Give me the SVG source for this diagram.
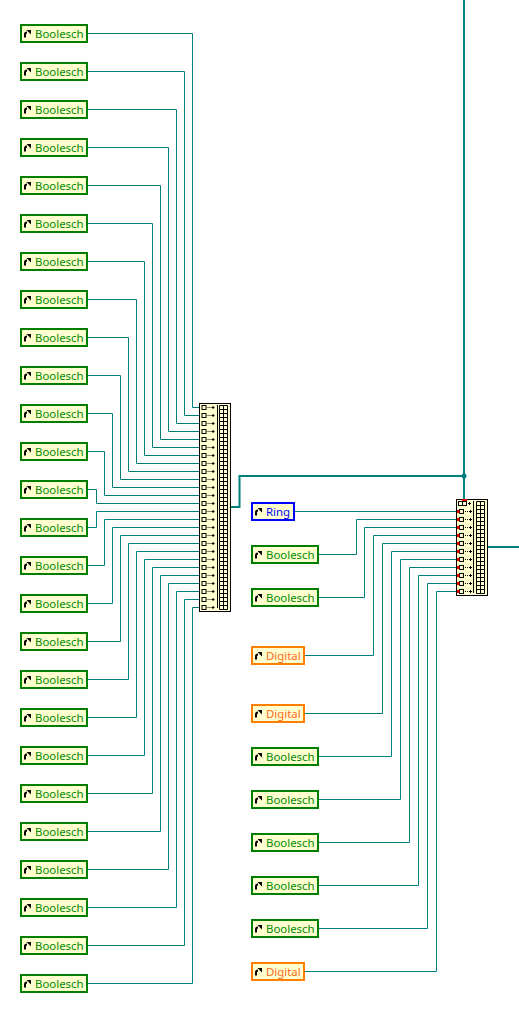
<svg xmlns="http://www.w3.org/2000/svg" width="519" height="1015" viewBox="0 0 519 1015">
<style>
.w{fill:none;stroke:#007f7f;stroke-width:1}
.t{fill:none;stroke:#007f7f;stroke-width:2}
.b{fill:#ffffd0;stroke-width:2}
.bool{stroke:#007f00}.ring{stroke:#0000ff}.dig{stroke:#ff8000}
text{font-family:"Noto Sans","Liberation Sans",sans-serif;font-size:11.400px}
.tb{fill:#008a00}.tr{fill:#0000ff}.td{fill:#ff6a20}
.n{fill:#ffffd0;stroke:#000;stroke-width:1}
.l{fill:none;stroke:#000;stroke-width:1}
</style>
<defs>
<g id="a"><path d="M1 8.500V5.500Q1 3.500 3 3.500" fill="none" stroke="#000" stroke-width="2"/><path d="M2.500 1H7V5.500Z" fill="#000"/></g>
<g id="r"><rect x="0.500" y="-2.500" width="4" height="4" fill="none" stroke="#000"/><path d="M6 -0.500h1M8 -0.500h1M10 -0.500h3M11.500 -2v3" stroke="#000" fill="none"/></g>
</defs>
<g id="connectors">
<path class="w" d="M87 33.500H192.500V407.500H199"/><path class="w" d="M87 71.500H184.500V415.500H199"/><path class="w" d="M87 109.500H176.500V423.500H199"/><path class="w" d="M87 147.500H168.500V431.500H199"/><path class="w" d="M87 185.500H160.500V439.500H199"/><path class="w" d="M87 223.500H152.500V447.500H199"/><path class="w" d="M87 261.500H144.500V455.500H199"/><path class="w" d="M87 299.500H136.500V463.500H199"/><path class="w" d="M87 337.500H128.500V471.500H199"/><path class="w" d="M87 375.500H120.500V479.500H199"/><path class="w" d="M87 413.500H112.500V487.500H199"/><path class="w" d="M87 451.500H104.500V495.500H199"/><path class="w" d="M87 489.500H96.500V503.500H199"/><path class="w" d="M87 527.500H96.500V511.500H199"/><path class="w" d="M87 565.500H104.500V519.500H199"/><path class="w" d="M87 603.500H112.500V527.500H199"/><path class="w" d="M87 641.500H120.500V535.500H199"/><path class="w" d="M87 679.500H128.500V543.500H199"/><path class="w" d="M87 717.500H136.500V551.500H199"/><path class="w" d="M87 755.500H144.500V559.500H199"/><path class="w" d="M87 793.500H152.500V567.500H199"/><path class="w" d="M87 831.500H160.500V575.500H199"/><path class="w" d="M87 869.500H168.500V583.500H199"/><path class="w" d="M87 907.500H176.500V591.500H199"/><path class="w" d="M87 945.500H184.500V599.500H199"/><path class="w" d="M87 983.500H192.500V607.500H199"/>
<path class="w" d="M294 511.500H456"/><path class="w" d="M318 554.500H356.500V519.500H456"/><path class="w" d="M318 597.500H364.500V527.500H456"/><path class="w" d="M304 655.500H373.500V535.500H456"/><path class="w" d="M304 713.500H382.500V543.500H456"/><path class="w" d="M318 756.500H391.500V551.500H456"/><path class="w" d="M318 799.500H400.500V559.500H456"/><path class="w" d="M318 842.500H409.500V567.500H456"/><path class="w" d="M318 885.500H418.500V575.500H456"/><path class="w" d="M318 928.500H427.500V583.500H456"/><path class="w" d="M304 971.500H436.500V591.500H456"/>
<path class="t" d="M230 507H239.500V476H464M464 0V500M488 547H519"/>
<circle cx="464" cy="476" r="2.500" fill="#007f7f"/>
</g>
<g id="bundle1">
<rect class="n" x="199.500" y="403.500" width="31" height="208"/>
<path class="l" d="M217.500 405V608"/>
<path class="l" d="M219.500 405.500H227.500V609.500H219.500ZM223.500 405.500V609.500M219.500 409.500h8M219.500 413.500h8M219.500 417.500h8M219.500 421.500h8M219.500 425.500h8M219.500 429.500h8M219.500 433.500h8M219.500 437.500h8M219.500 441.500h8M219.500 445.500h8M219.500 449.500h8M219.500 453.500h8M219.500 457.500h8M219.500 461.500h8M219.500 465.500h8M219.500 469.500h8M219.500 473.500h8M219.500 477.500h8M219.500 481.500h8M219.500 485.500h8M219.500 489.500h8M219.500 493.500h8M219.500 497.500h8M219.500 501.500h8M219.500 505.500h8M219.500 509.500h8M219.500 513.500h8M219.500 517.500h8M219.500 521.500h8M219.500 525.500h8M219.500 529.500h8M219.500 533.500h8M219.500 537.500h8M219.500 541.500h8M219.500 545.500h8M219.500 549.500h8M219.500 553.500h8M219.500 557.500h8M219.500 561.500h8M219.500 565.500h8M219.500 569.500h8M219.500 573.500h8M219.500 577.500h8M219.500 581.500h8M219.500 585.500h8M219.500 589.500h8M219.500 593.500h8M219.500 597.500h8M219.500 601.500h8M219.500 605.500h8"/>
<use href="#r" x="201.500" y="408"/><use href="#r" x="201.500" y="416"/><use href="#r" x="201.500" y="424"/><use href="#r" x="201.500" y="432"/><use href="#r" x="201.500" y="440"/><use href="#r" x="201.500" y="448"/><use href="#r" x="201.500" y="456"/><use href="#r" x="201.500" y="464"/><use href="#r" x="201.500" y="472"/><use href="#r" x="201.500" y="480"/><use href="#r" x="201.500" y="488"/><use href="#r" x="201.500" y="496"/><use href="#r" x="201.500" y="504"/><use href="#r" x="201.500" y="512"/><use href="#r" x="201.500" y="520"/><use href="#r" x="201.500" y="528"/><use href="#r" x="201.500" y="536"/><use href="#r" x="201.500" y="544"/><use href="#r" x="201.500" y="552"/><use href="#r" x="201.500" y="560"/><use href="#r" x="201.500" y="568"/><use href="#r" x="201.500" y="576"/><use href="#r" x="201.500" y="584"/><use href="#r" x="201.500" y="592"/><use href="#r" x="201.500" y="600"/><use href="#r" x="201.500" y="608"/>
</g>
<g id="bundle2">
<rect class="n" x="456.500" y="499.500" width="31" height="96"/>
<path class="l" d="M473.500 501V593"/>
<path class="l" d="M476.500 501.500H484.500V593.500H476.500ZM480.500 501.500V593.500M476.500 505.500h8M476.500 509.500h8M476.500 513.500h8M476.500 517.500h8M476.500 521.500h8M476.500 525.500h8M476.500 529.500h8M476.500 533.500h8M476.500 537.500h8M476.500 541.500h8M476.500 545.500h8M476.500 549.500h8M476.500 553.500h8M476.500 557.500h8M476.500 561.500h8M476.500 565.500h8M476.500 569.500h8M476.500 573.500h8M476.500 577.500h8M476.500 581.500h8M476.500 585.500h8M476.500 589.500h8"/>
<rect x="458.500" y="501.500" width="4" height="4" fill="none" stroke="#000"/><rect x="462.500" y="501.500" width="4" height="4" fill="none" stroke="#000"/><path class="l" d="M468 503.500h3M469.500 502v3"/>
<use href="#r" x="459" y="512"/><use href="#r" x="459" y="520"/><use href="#r" x="459" y="528"/><use href="#r" x="459" y="536"/><use href="#r" x="459" y="544"/><use href="#r" x="459" y="552"/><use href="#r" x="459" y="560"/><use href="#r" x="459" y="568"/><use href="#r" x="459" y="576"/><use href="#r" x="459" y="584"/><use href="#r" x="459" y="592"/>
<path d="M462 499h5v2h-5zM457 510h2.500v3h-2.500zM457 518h2.500v3h-2.500zM457 526h2.500v3h-2.500zM457 534h2.500v3h-2.500zM457 542h2.500v3h-2.500zM457 550h2.500v3h-2.500zM457 558h2.500v3h-2.500zM457 566h2.500v3h-2.500zM457 574h2.500v3h-2.500zM457 582h2.500v3h-2.500zM457 590h2.500v3h-2.500z" fill="#e00000"/>
</g>
<g id="n1"><rect class="b bool" x="21" y="25" width="66" height="17"/><use href="#a" x="24" y="29"/><text class="tb" x="35" y="38">Boolesch</text></g>
<g id="n2"><rect class="b bool" x="21" y="63" width="66" height="17"/><use href="#a" x="24" y="67"/><text class="tb" x="35" y="76">Boolesch</text></g>
<g id="n3"><rect class="b bool" x="21" y="101" width="66" height="17"/><use href="#a" x="24" y="105"/><text class="tb" x="35" y="114">Boolesch</text></g>
<g id="n4"><rect class="b bool" x="21" y="139" width="66" height="17"/><use href="#a" x="24" y="143"/><text class="tb" x="35" y="152">Boolesch</text></g>
<g id="n5"><rect class="b bool" x="21" y="177" width="66" height="17"/><use href="#a" x="24" y="181"/><text class="tb" x="35" y="190">Boolesch</text></g>
<g id="n6"><rect class="b bool" x="21" y="215" width="66" height="17"/><use href="#a" x="24" y="219"/><text class="tb" x="35" y="228">Boolesch</text></g>
<g id="n7"><rect class="b bool" x="21" y="253" width="66" height="17"/><use href="#a" x="24" y="257"/><text class="tb" x="35" y="266">Boolesch</text></g>
<g id="n8"><rect class="b bool" x="21" y="291" width="66" height="17"/><use href="#a" x="24" y="295"/><text class="tb" x="35" y="304">Boolesch</text></g>
<g id="n9"><rect class="b bool" x="21" y="329" width="66" height="17"/><use href="#a" x="24" y="333"/><text class="tb" x="35" y="342">Boolesch</text></g>
<g id="n10"><rect class="b bool" x="21" y="367" width="66" height="17"/><use href="#a" x="24" y="371"/><text class="tb" x="35" y="380">Boolesch</text></g>
<g id="n11"><rect class="b bool" x="21" y="405" width="66" height="17"/><use href="#a" x="24" y="409"/><text class="tb" x="35" y="418">Boolesch</text></g>
<g id="n12"><rect class="b bool" x="21" y="443" width="66" height="17"/><use href="#a" x="24" y="447"/><text class="tb" x="35" y="456">Boolesch</text></g>
<g id="n13"><rect class="b bool" x="21" y="481" width="66" height="17"/><use href="#a" x="24" y="485"/><text class="tb" x="35" y="494">Boolesch</text></g>
<g id="n14"><rect class="b bool" x="21" y="519" width="66" height="17"/><use href="#a" x="24" y="523"/><text class="tb" x="35" y="532">Boolesch</text></g>
<g id="n15"><rect class="b bool" x="21" y="557" width="66" height="17"/><use href="#a" x="24" y="561"/><text class="tb" x="35" y="570">Boolesch</text></g>
<g id="n16"><rect class="b bool" x="21" y="595" width="66" height="17"/><use href="#a" x="24" y="599"/><text class="tb" x="35" y="608">Boolesch</text></g>
<g id="n17"><rect class="b bool" x="21" y="633" width="66" height="17"/><use href="#a" x="24" y="637"/><text class="tb" x="35" y="646">Boolesch</text></g>
<g id="n18"><rect class="b bool" x="21" y="671" width="66" height="17"/><use href="#a" x="24" y="675"/><text class="tb" x="35" y="684">Boolesch</text></g>
<g id="n19"><rect class="b bool" x="21" y="709" width="66" height="17"/><use href="#a" x="24" y="713"/><text class="tb" x="35" y="722">Boolesch</text></g>
<g id="n20"><rect class="b bool" x="21" y="747" width="66" height="17"/><use href="#a" x="24" y="751"/><text class="tb" x="35" y="760">Boolesch</text></g>
<g id="n21"><rect class="b bool" x="21" y="785" width="66" height="17"/><use href="#a" x="24" y="789"/><text class="tb" x="35" y="798">Boolesch</text></g>
<g id="n22"><rect class="b bool" x="21" y="823" width="66" height="17"/><use href="#a" x="24" y="827"/><text class="tb" x="35" y="836">Boolesch</text></g>
<g id="n23"><rect class="b bool" x="21" y="861" width="66" height="17"/><use href="#a" x="24" y="865"/><text class="tb" x="35" y="874">Boolesch</text></g>
<g id="n24"><rect class="b bool" x="21" y="899" width="66" height="17"/><use href="#a" x="24" y="903"/><text class="tb" x="35" y="912">Boolesch</text></g>
<g id="n25"><rect class="b bool" x="21" y="937" width="66" height="17"/><use href="#a" x="24" y="941"/><text class="tb" x="35" y="950">Boolesch</text></g>
<g id="n26"><rect class="b bool" x="21" y="975" width="66" height="17"/><use href="#a" x="24" y="979"/><text class="tb" x="35" y="988">Boolesch</text></g>
<g id="r1"><rect class="b ring" x="252" y="503" width="42" height="17"/><use href="#a" x="255" y="507"/><text class="tr" x="266" y="516">Ring</text></g>
<g id="r2"><rect class="b bool" x="252" y="546" width="66" height="17"/><use href="#a" x="255" y="550"/><text class="tb" x="266" y="559">Boolesch</text></g>
<g id="r3"><rect class="b bool" x="252" y="589" width="66" height="17"/><use href="#a" x="255" y="593"/><text class="tb" x="266" y="602">Boolesch</text></g>
<g id="r4"><rect class="b dig" x="252" y="647" width="52" height="17"/><use href="#a" x="255" y="651"/><text class="td" x="266" y="660">Digital</text></g>
<g id="r5"><rect class="b dig" x="252" y="705" width="52" height="17"/><use href="#a" x="255" y="709"/><text class="td" x="266" y="718">Digital</text></g>
<g id="r6"><rect class="b bool" x="252" y="748" width="66" height="17"/><use href="#a" x="255" y="752"/><text class="tb" x="266" y="761">Boolesch</text></g>
<g id="r7"><rect class="b bool" x="252" y="791" width="66" height="17"/><use href="#a" x="255" y="795"/><text class="tb" x="266" y="804">Boolesch</text></g>
<g id="r8"><rect class="b bool" x="252" y="834" width="66" height="17"/><use href="#a" x="255" y="838"/><text class="tb" x="266" y="847">Boolesch</text></g>
<g id="r9"><rect class="b bool" x="252" y="877" width="66" height="17"/><use href="#a" x="255" y="881"/><text class="tb" x="266" y="890">Boolesch</text></g>
<g id="r10"><rect class="b bool" x="252" y="920" width="66" height="17"/><use href="#a" x="255" y="924"/><text class="tb" x="266" y="933">Boolesch</text></g>
<g id="r11"><rect class="b dig" x="252" y="963" width="52" height="17"/><use href="#a" x="255" y="967"/><text class="td" x="266" y="976">Digital</text></g>
</svg>
